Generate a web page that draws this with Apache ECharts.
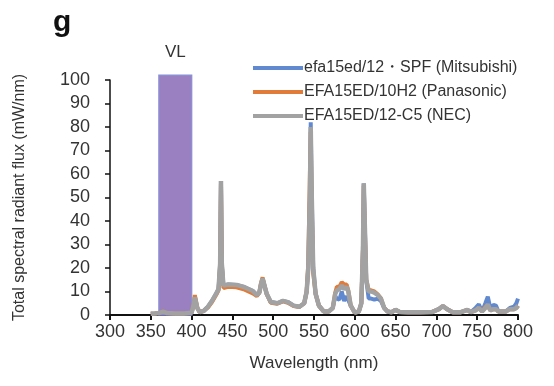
<!DOCTYPE html>
<html>
<head>
<meta charset="utf-8">
<script src="https://cdn.jsdelivr.net/npm/echarts@6/dist/echarts.min.js"></script>
<style>html,body{margin:0;padding:0;background:#fff;}#c{width:554px;height:386px;}</style>
</head>
<body>
<div id="c"></div>
<script>
const seriesNames = ['efa15ed/12\u30fbSPF (Mitsubishi)', 'EFA15ED/10H2 (Panasonic)', 'EFA15ED/12-C5 (NEC)'];
const xTicks = [300, 350, 400, 450, 500, 550, 600, 650, 700, 750, 800];
const yTicks = [0, 10, 20, 30, 40, 50, 60, 70, 80, 90, 100];
const vlBand = [360, 400, 102];
const vlLabel = 'VL';

const wavelength = [
 350,355,360,365,370,380,390,400,403,404,405,407,410,415,420,425,430,433,435,436,
 437,439,445,455,465,475,480,483,485,487,489,492,497,505,512,518,525,532,538,541,
 543,545,546,547,549,552,556,562,568,573,576,578,581,584,587,590,592,595,600,605,
 608,610,611,612,614,617,620,624,628,632,636,640,645,650,655,665,680,695,703,708,
 713,720,730,738,742,748,752,756,760,763,766,770,773,776,785,790,795,798,800];

const necFlux = [
 0.5,0.6,0.8,1.5,0.8,0.6,0.6,1.0,5,7.5,7,3,1.2,1.8,3.5,6,9,11,22,57,
 22,12.5,13,12.8,11.8,10.2,8.5,9.5,13,15.5,13,9,5.5,5,6,5.5,4,3.5,5,10,
 20,52,80,55,20,9,4,1.5,1.5,3,9,10.5,11,12.5,11,12,10,4,1,1.5,
 5,28,56,42,15,10,10,9.5,8.5,7,3,1.5,1.2,2.2,1.3,1.2,1.2,1.3,2.5,3.8,
 2.5,1.2,1.2,2.2,1.2,2,3,1.5,3,4.5,2,2.5,2.5,1.5,1.5,2.5,2.5,3,4];

const panasonicFlux = [
 0.5,0.6,0.8,1.5,0.8,0.6,0.6,1.0,5.5,8.5,8,3,1.2,1.8,3.2,5.5,8.5,10.5,21,56,
 21,11.5,12,11.8,10.8,9.2,8,9.5,13.5,16,13,9,5.2,4.8,5.8,5.2,3.8,3.4,5,10,
 22,60,78,50,18,9,4,1.5,1.5,3,9.5,12,12,14,13,13,10.5,4,1,1.5,
 5,28,55,40,15,10.5,10.5,10,8.8,7,3,1.5,1.2,2.2,1.3,1.2,1.2,1.3,2.5,3.8,
 2.5,1.2,1.2,2.2,1.2,2,3,1.5,3.5,4,2,2.5,2.5,1.5,1.5,2.5,2.5,3,4];

const mitsubishiFlux = [
 0.5,0.6,0.8,1.5,0.8,0.6,0.6,1.0,5,7.5,7,3,1.2,1.8,3.5,6,9,11,22,57,
 22,12.5,13,12.8,11.8,10.2,8.5,9.5,13,15.5,13,9,5.5,5,6,5.5,4,3.5,5,10,
 20,50,82,55,20,9,4,1.5,1.5,3,8,7,6.5,10,6,8,8,4,1,1.5,
 5,28,56,42,15,7,7,6.5,7,6,3,1.5,1.2,2.2,1.3,1.2,1.2,1.3,2.5,3.8,
 2.5,1.2,1.2,2.2,1.2,3,4.5,1.5,5,7.8,3,4.3,4,1.5,1.5,3,3.5,5,7];

const pair = arr => wavelength.map((w, i) => [w, arr[i]]);
const FONT = 'Liberation Sans, Arial, sans-serif';

const chart = echarts.init(document.getElementById('c'), null, {renderer: 'canvas'});
chart.setOption({
  animation: false,
  backgroundColor: '#fff',
  title: {
    text: 'g', left: 48, top: 3,
    textStyle: {fontSize: 30, fontWeight: 'bold', color: '#111', fontFamily: FONT}
  },
  legend: {
    orient: 'vertical', left: 248, top: 55, itemGap: 8,
    itemWidth: 50, itemHeight: 4, icon: 'rect',
    textStyle: {fontSize: 16, color: '#333', fontFamily: FONT, padding: [0, 0, 0, -4]},
    data: seriesNames
  },
  grid: {left: 110, right: 36, top: 80, bottom: 71},
  xAxis: {
    type: 'value', min: xTicks[0], max: xTicks[xTicks.length - 1], interval: 50,
    name: 'Wavelength (nm)', nameLocation: 'middle', nameGap: 40,
    nameTextStyle: {fontSize: 17, color: '#333', fontFamily: FONT},
    axisLine: {lineStyle: {color: '#111', width: 2}},
    axisTick: {show: true, length: 5, lineStyle: {color: '#111', width: 2}},
    axisLabel: {fontSize: 18, color: '#333', fontFamily: FONT, margin: 8},
    splitLine: {show: false}
  },
  yAxis: {
    type: 'value', min: yTicks[0], max: yTicks[yTicks.length - 1], interval: 10,
    name: 'Total spectral radiant flux (mW/nm)', nameLocation: 'middle', nameGap: 82,
    nameTextStyle: {fontSize: 16, color: '#333', fontFamily: FONT},
    axisLine: {show: true, lineStyle: {color: '#111', width: 1.5}},
    axisTick: {show: true, length: 5, lineStyle: {color: '#111', width: 1.5}},
    axisLabel: {fontSize: 18, color: '#333', fontFamily: FONT, margin: 20},
    splitLine: {show: false}
  },
  series: [
    {
      type: 'custom', name: 'VL', clip: false, z: 1, silent: true,
      data: [vlBand],
      renderItem: function (params, api) {
        const p0 = api.coord([api.value(0), 0]);
        const p1 = api.coord([api.value(1), api.value(2)]);
        return {
          type: 'group',
          children: [
            {type: 'rect', shape: {x: p0[0], y: p1[1], width: p1[0] - p0[0], height: p0[1] - p1[1]},
             style: {fill: '#9a7fc1', stroke: '#8c8fd2', lineWidth: 1.5}},
            {type: 'text', style: {text: vlLabel, x: (p0[0] + p1[0]) / 2, y: p1[1] - 14,
             textAlign: 'center', textVerticalAlign: 'bottom', fontSize: 17, fill: '#333', fontFamily: FONT}}
          ]
        };
      }
    },
    {name: seriesNames[0], type: 'line', data: pair(mitsubishiFlux), symbol: 'none', z: 2,
     itemStyle: {color: '#6189cf'}, lineStyle: {color: '#6189cf', width: 4}},
    {name: seriesNames[1], type: 'line', data: pair(panasonicFlux), symbol: 'none', z: 3,
     itemStyle: {color: '#e07b39'}, lineStyle: {color: '#e07b39', width: 4}},
    {name: seriesNames[2], type: 'line', data: pair(necFlux), symbol: 'none', z: 4,
     itemStyle: {color: '#a2a2a2'}, lineStyle: {color: '#a2a2a2', width: 4.5}}
  ]
});
</script>
</body>
</html>
